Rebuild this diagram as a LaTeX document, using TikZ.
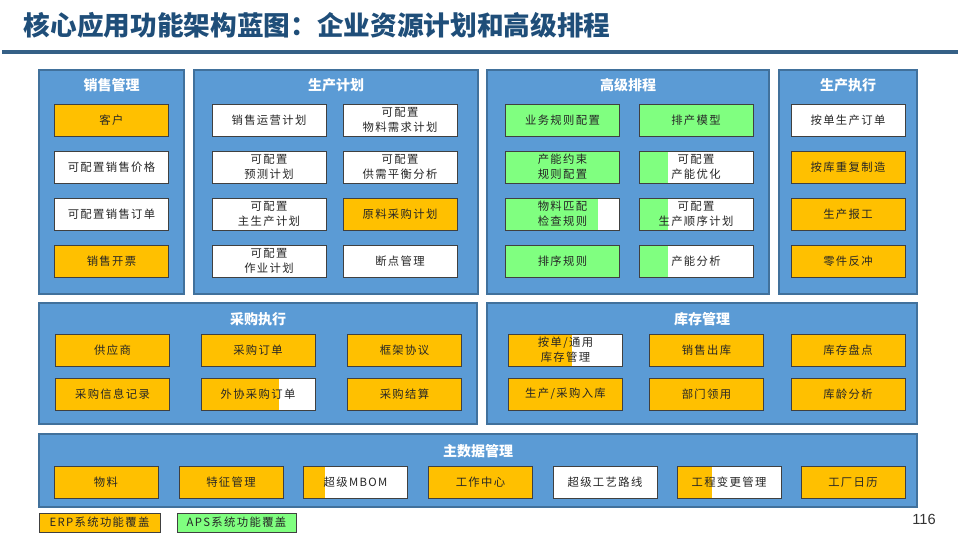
\documentclass[tikz,border=0pt]{standalone}
\usepackage{fontspec}
\setmainfont{Noto Sans CJK SC}
\newfontfamily\boxfont[LetterSpace=12]{Noto Sans CJK SC}
\newfontfamily\pagefont{Liberation Sans}
\usetikzlibrary{calc}
\definecolor{panelblue}{HTML}{5B9BD5}
\definecolor{paneledge}{HTML}{41719C}
\definecolor{erporange}{HTML}{FFC000}
\definecolor{apsgreen}{HTML}{80FF80}
\definecolor{titleblue}{HTML}{1F4E79}
\definecolor{boxedge}{HTML}{404040}

\begin{document}
\begin{tikzpicture}[x=0.75pt,y=-0.75pt]
  \tikzstyle{panel}=[draw=paneledge,fill=panelblue,line width=0.8pt,inner sep=0pt]
  \tikzstyle{ptitle}=[text=white,font=\bfseries\fontsize{10.5}{12}\selectfont]
  \tikzstyle{unit}=[draw=boxedge,line width=0.75pt,fill=white,minimum width=85.5pt,minimum height=24pt,inner sep=0pt,align=center,text=black!85,font=\boxfont\fontsize{8.5}{11.25}\selectfont]
  \tikzstyle{erp}=[unit,fill=erporange]
  \tikzstyle{aps}=[unit,fill=apsgreen]
  \tikzstyle{mdata}=[minimum width=78pt]
  \tikzset{part/.style 2 args={unit,path picture={
    \fill[#1] (path picture bounding box.south west) rectangle
      ($(path picture bounding box.north west)!#2!(path picture bounding box.north east)$);}}}
  \fill[white] (0,0) rectangle (960,540);
  \useasboundingbox (0,0) rectangle (960,540);

  % title
  \node[anchor=west,text=titleblue,font=\bfseries\fontsize{20}{24}\selectfont] (title) at (19,25) {核心应用功能架构蓝图：企业资源计划和高级排程};
  \draw[titleblue!90,line width=2.4pt] (2,52) -- (958,52);

  % panels
  \node[panel,minimum width=108.75pt,minimum height=168pt] (salesp) at (111.5,182) {};
  \node[panel,minimum width=213pt,minimum height=168pt] (planp) at (336,182) {};
  \node[panel,minimum width=211.5pt,minimum height=168pt] (apsp) at (628,182) {};
  \node[panel,minimum width=103.5pt,minimum height=168pt] (execp) at (848,182) {};
  \node[panel,minimum width=328.5pt,minimum height=90.75pt] (purchp) at (258,363.5) {};
  \node[panel,minimum width=322.5pt,minimum height=90.75pt] (invp) at (702,363.5) {};
  \node[panel,minimum width=658.5pt,minimum height=54.75pt] (mdp) at (478,470.5) {};

  \node[ptitle] (salest) at (111.5,85) {销售管理};
  \node[ptitle] (plant) at (336,85) {生产计划};
  \node[ptitle] (apst) at (628,85) {高级排程};
  \node[ptitle] (exect) at (848,85) {生产执行};
  \node[ptitle] (purcht) at (258,319) {采购执行};
  \node[ptitle] (invt) at (702,319) {库存管理};
  \node[ptitle] (mdt) at (478,451) {主数据管理};

  % sales
  \node[erp] (sm1) at (111.5,120) {客户};
  \node[unit] (sm2) at (111.5,167) {可配置销售价格};
  \node[unit] (sm3) at (111.5,214) {可配置销售订单};
  \node[erp] (sm4) at (111.5,261) {销售开票};

  % production planning
  \node[unit] (pp1) at (269,120) {销售运营计划};
  \node[unit] (pp2) at (269,167) {可配置\\预测计划};
  \node[unit] (pp3) at (269,214) {可配置\\主生产计划};
  \node[unit] (pp4) at (269,261) {可配置\\作业计划};
  \node[unit] (pp5) at (400,120) {可配置\\物料需求计划};
  \node[unit] (pp6) at (400,167) {可配置\\供需平衡分析};
  \node[erp] (pp7) at (400,214) {原料采购计划};
  \node[unit] (pp8) at (400,261) {断点管理};

  % advanced scheduling
  \node[aps] (as1) at (562.5,120) {业务规则配置};
  \node[aps] (as2) at (562.5,167) {产能约束\\规则配置};
  \node[part={apsgreen}{0.81}] (as3) at (562.5,214) {物料匹配\\检查规则};
  \node[aps] (as4) at (562.5,261) {排序规则};
  \node[aps] (as5) at (696,120) {排产模型};
  \node[part={apsgreen}{0.25}] (as6) at (696,167) {可配置\\产能优化};
  \node[part={apsgreen}{0.25}] (as7) at (696,214) {可配置\\生产顺序计划};
  \node[part={apsgreen}{0.25}] (as8) at (696,261) {产能分析};

  % production execution
  \node[unit] (pe1) at (848,120) {按单生产订单};
  \node[erp] (pe2) at (848,167) {按库重复制造};
  \node[erp] (pe3) at (848,214) {生产报工};
  \node[erp] (pe4) at (848,261) {零件反冲};

  % purchasing
  \node[erp] (pu1) at (112.5,350) {供应商};
  \node[erp] (pu2) at (258,350) {采购订单};
  \node[erp] (pu3) at (404.5,350) {框架协议};
  \node[erp] (pu4) at (112.5,394) {采购信息记录};
  \node[part={erporange}{0.68}] (pu5) at (258,394) {外协采购订单};
  \node[erp] (pu6) at (404.5,394) {采购结算};

  % inventory
  \node[part={erporange}{0.56}] (inv1) at (565.5,350) {按单/通用\\库存管理};
  \node[erp] (inv2) at (706.5,350) {销售出库};
  \node[erp] (inv3) at (848,350) {库存盘点};
  \node[erp] (inv4) at (565.5,394) {生产/采购入库};
  \node[erp] (inv5) at (706.5,394) {部门领用};
  \node[erp] (inv6) at (848,394) {库龄分析};

  % master data
  \node[erp,mdata] (md1) at (106,482.5) {物料};
  \node[erp,mdata] (md2) at (231,482.5) {特征管理};
  \node[part={erporange}{0.21},mdata] (md3) at (355.5,482.5) {超级MBOM};
  \node[erp,mdata] (md4) at (480.5,482.5) {工作中心};
  \node[unit,mdata] (md5) at (605,482.5) {超级工艺路线};
  \node[part={erporange}{0.34},mdata] (md6) at (729,482.5) {工程变更管理};
  \node[erp,mdata] (md7) at (853,482.5) {工厂日历};

  % legend
  \node[erp,minimum width=90.75pt,minimum height=14.25pt] (legerp) at (99.5,522.5) {ERP系统功能覆盖};
  \node[aps,minimum width=89.25pt,minimum height=14.25pt] (legaps) at (236.5,522.5) {APS系统功能覆盖};
  \node[text=black!80,font=\pagefont\fontsize{11}{13}\selectfont] (pagenum) at (924,519) {116};
\end{tikzpicture}
\end{document}
